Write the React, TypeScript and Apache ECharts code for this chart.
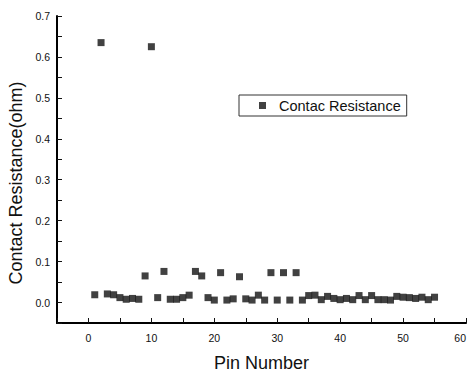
import React, { useEffect, useRef } from "react";
import * as echarts from "echarts";

const pins = [1,2,3,4,5,6,7,8,9,10,11,12,13,14,15,16,17,18,19,20,21,22,23,24,25,26,27,28,29,30,31,32,33,34,35,36,37,38,39,40,41,42,43,44,45,46,47,48,49,50,51,52,53,54,55];
const resistance = [0.019,0.635,0.021,0.019,0.012,0.008,0.010,0.008,0.065,0.625,0.012,0.076,0.008,0.008,0.012,0.018,0.076,0.065,0.012,0.006,0.073,0.006,0.009,0.063,0.009,0.006,0.018,0.006,0.073,0.006,0.073,0.006,0.073,0.006,0.017,0.018,0.007,0.015,0.010,0.007,0.010,0.007,0.017,0.007,0.017,0.007,0.007,0.006,0.015,0.013,0.012,0.010,0.013,0.007,0.013];
const seriesName = "Contac Resistance";
const xTitle = "Pin Number";
const yTitle = "Contact Resistance(ohm)";

export default function App() {
  const ref = useRef<HTMLDivElement>(null);
  useEffect(() => {
    if (!ref.current) return;
    const chart = echarts.init(ref.current, null, { renderer: "svg" });
    const font = "Liberation Sans, Arial, sans-serif";
    chart.setOption({
      animation: false,
      backgroundColor: "#fff",
      grid: { left: 57, right: 4, top: 16, bottom: 49, outerBoundsMode: "none", containLabel: false },
      legend: {
        data: [{ name: seriesName, icon: "rect" }],
        left: 239,
        top: 95,
        padding: [3, 6, 3, 20],
        itemWidth: 7,
        itemHeight: 7,
        borderColor: "#333",
        borderWidth: 1,
        textStyle: { fontFamily: font, fontSize: 14.5, color: "#111", padding: [0, 0, 0, 8] },
      },
      graphic: [
        {
          type: "text",
          x: 16,
          y: 183,
          rotation: Math.PI / 2,
          style: {
            text: yTitle,
            font: "18px " + font,
            fill: "#111",
            textAlign: "center",
            textVerticalAlign: "middle",
          },
        },
      ],
      xAxis: {
        type: "value",
        min: -5,
        max: 60,
        interval: 5,
        name: xTitle,
        nameLocation: "middle",
        nameGap: 31,
        nameTextStyle: { fontFamily: font, fontSize: 18, color: "#111" },
        axisLine: { show: true, onZero: false, lineStyle: { color: "#000", width: 2 } },
        axisTick: { show: true, inside: true, length: 5, lineStyle: { color: "#111" } },
        splitLine: { show: false },
        axisLabel: {
          margin: 9,
          fontFamily: font,
          fontSize: 10.5,
          color: "#111",
          alignMaxLabel: "right",
          formatter: (v: number) => (v >= 0 && v % 10 === 0 ? String(v) : ""),
        },
      },
      yAxis: {
        type: "value",
        min: -0.05,
        max: 0.7,
        interval: 0.05,
        axisLine: { show: true, onZero: false, lineStyle: { color: "#000", width: 2 } },
        axisTick: { show: true, inside: true, length: 5, lineStyle: { color: "#111" } },
        splitLine: { show: false },
        axisLabel: {
          margin: 7,
          fontFamily: font,
          fontSize: 10.5,
          color: "#111",
          formatter: (v: number) => {
            const r = Math.round(v * 100);
            return r >= 0 && r % 10 === 0 ? (r / 100).toFixed(1) : "";
          },
        },
      },
      series: [
        {
          name: seriesName,
          type: "scatter",
          symbol: "rect",
          symbolSize: 7,
          itemStyle: { color: "#111" },
          data: pins.map((p, i) => [p, resistance[i]]),
        },
      ],
    });
    return () => chart.dispose();
  }, []);
  return (
    <div
      ref={ref}
      style={{ position: "absolute", left: 0, top: 0, width: 470, height: 372 }}
    />
  );
}
